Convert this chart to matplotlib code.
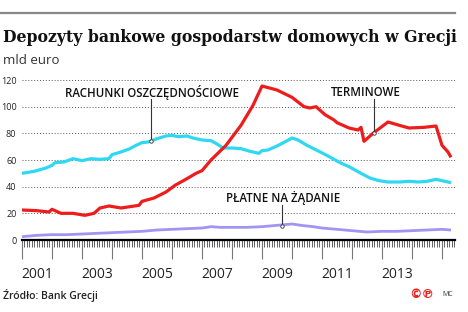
import numpy as np
import matplotlib
matplotlib.use("Agg")
import matplotlib.pyplot as plt

plt.rcParams['font.family'] = ['Open Sans', 'DejaVu Sans']

# data (decimal years, bn euro)
sav_t = [2001.0, 2001.4, 2001.8, 2002.0, 2002.1, 2002.4, 2002.7, 2003.0, 2003.3, 2003.6,
         2003.9, 2004.0, 2004.3, 2004.6, 2004.8, 2005.0, 2005.2, 2005.5, 2005.8, 2006.0,
         2006.2, 2006.5, 2006.7, 2007.0, 2007.3, 2007.5, 2007.7, 2008.0, 2008.3, 2008.6,
         2008.9, 2009.0, 2009.2, 2009.5, 2009.8, 2010.0, 2010.2, 2010.5, 2010.9, 2011.2,
         2011.6, 2011.9, 2012.3, 2012.6, 2012.9, 2013.2, 2013.6, 2013.9, 2014.2, 2014.5,
         2014.8, 2015.0, 2015.3]
sav_v = [50, 51.5, 54, 56, 58, 58.5, 61, 59.5, 61, 60.5,
         61, 64, 66, 68.5, 71, 73, 73.5, 76, 78, 78.5,
         77.5, 78, 76.5, 75, 74.5, 72, 69, 69, 68.5, 66.5,
         65, 67, 67.5, 70.5, 74, 76.5, 75, 71, 66.5, 63,
         58, 55, 50, 46.5, 44.5, 43.5, 43.5, 44, 43.5, 44,
         45.5, 44.5, 43]

term_t = [2001.0, 2001.5, 2001.9, 2002.0, 2002.3, 2002.7, 2003.1, 2003.4, 2003.6, 2003.9,
          2004.3, 2004.6, 2004.9, 2005.0, 2005.4, 2005.8, 2006.1, 2006.5, 2006.8, 2007.0,
          2007.3, 2007.8, 2008.3, 2008.7, 2009.0, 2009.5, 2010.0, 2010.4, 2010.6, 2010.8,
          2011.1, 2011.4, 2011.5, 2011.9, 2012.2, 2012.3, 2012.4, 2012.7, 2013.2, 2013.5,
          2013.9, 2014.4, 2014.8, 2015.0, 2015.2, 2015.3]
term_v = [22.5, 22, 21, 23, 20, 20, 18.5, 20, 24, 25.5,
          24, 25, 26, 29, 31.5, 36, 41, 46, 50, 52,
          60, 71, 86, 101, 115.5, 112.5, 107, 100, 99, 100,
          94, 90, 88, 84, 82.5, 84.5, 74, 80, 88.5, 86.5,
          84, 84.5, 85.5, 71, 66, 62]

dem_t = [2001.0, 2001.5, 2002.0, 2002.5, 2003.0, 2003.5, 2004.0, 2004.5, 2005.0, 2005.5,
         2006.0, 2006.5, 2007.0, 2007.3, 2007.6, 2008.0, 2008.5, 2009.0, 2009.5, 2010.0,
         2010.3, 2010.7, 2011.0, 2011.5, 2012.0, 2012.5, 2013.0, 2013.5, 2014.0, 2014.5,
         2015.0, 2015.3]
dem_v = [2.5, 3.5, 4, 4, 4.5, 5, 5.5, 6, 6.5, 7.5,
         8, 8.5, 9, 10, 9.5, 9.5, 9.5, 10, 11, 12,
         11, 10, 9, 8, 7, 6, 6.5, 6.5, 7, 7.5,
         8, 7.5]

years_lab = [2001, 2003, 2005, 2007, 2009, 2011, 2013]

W, H = 468, 312
fig = plt.figure(figsize=(W / 100, H / 100), dpi=100)
ax = fig.add_axes([22 / W, (H - 240) / H, 433 / W, 160 / H])

ax.plot(sav_t, sav_v, color='#2fd8f2', lw=2.3, solid_capstyle='butt')
ax.plot(term_t, term_v, color='#ee1c1c', lw=2.3, solid_capstyle='butt')
ax.plot(dem_t, dem_v, color='#a294f2', lw=2.0, solid_capstyle='butt')

ax.set_xlim(2001, 2001 + 433 / 30)
ax.set_ylim(0, 120)
for s in ['top', 'right', 'left']:
    ax.spines[s].set_visible(False)
ax.spines['bottom'].set_linewidth(1.6)

ax.set_yticks(range(0, 121, 20))
ax.tick_params(axis='y', length=0, pad=4, labelsize=6.5, labelcolor='#222222')
ax.yaxis.grid(True, linestyle=(0, (1, 2)), color='#555555', lw=0.7)
ax.set_axisbelow(True)

ax.set_xticks(range(2001, 2016))
ax.set_xticklabels([])
ax.set_xticks(np.arange(2001, 2015.42, 1 / 12), minor=True)
ax.tick_params(axis='x', which='major', length=14, width=0.8, color='#777777')
ax.tick_params(axis='x', which='minor', length=5, width=0.5, color='#222222')

for y in years_lab:
    ax.text(y + 0.5, -34 / 160 * 120 / 120, str(y), transform=ax.get_xaxis_transform(),
            ha='center', va='center', fontsize=10, color='#222222')

# annotations
lab_kw = dict(ha='center', va='center', fontsize=8.3, color='#111111', fontweight='semibold')
ax.text(2005.35, 110.5, 'RACHUNKI OSZCZĘDNOŚCIOWE', **lab_kw)
ax.plot([2005.3, 2005.3], [106, 74], color='#333333', lw=0.8)
ax.plot([2005.3], [74], marker='o', ms=2.5, mfc='white', mec='#333333', mew=0.6)
ax.text(2012.47, 110.5, 'TERMINOWE', **lab_kw)
ax.plot([2012.73, 2012.73], [106, 80.5], color='#333333', lw=0.8)
ax.plot([2012.73], [80.5], marker='o', ms=2.5, mfc='white', mec='#333333', mew=0.6)
ax.text(2009.7, 31.5, 'PŁATNE NA ŻĄDANIE', **lab_kw)
ax.plot([2009.67, 2009.67], [26, 10.5], color='#333333', lw=0.8)
ax.plot([2009.67], [10.5], marker='o', ms=2.5, mfc='white', mec='#333333', mew=0.6)

# header / footer
fig.add_artist(plt.Line2D([0, 455 / W], [1 - 13 / H, 1 - 13 / H], color='#888888', lw=1.6))
title = fig.text(3 / W, 1 - 37 / H, 'Depozyty bankowe gospodarstw domowych w Grecji',
                 ha='left', va='center', fontsize=12, fontweight='bold',
                 family='DejaVu Serif', color='#111111')
fig.canvas.draw()
w = title.get_window_extent().width
title.set_fontsize(12 * 452 / w)

fig.text(3 / W, 1 - 61 / H, 'mld euro', ha='left', va='center', fontsize=9.5, color='#333333')
fig.text(3 / W, 1 - 295 / H, 'Źródło: Bank Grecji', ha='left', va='center',
         fontsize=7.5, fontweight='semibold', color='#222222')
fig.text(422 / W, 1 - 295 / H, '©℗', ha='center', va='center', fontsize=9,
         fontweight='bold', color='#e8201e', family='DejaVu Sans')
fig.text(448 / W, 1 - 295 / H, 'MC', ha='center', va='center', fontsize=5,
         color='#333333')

fig.savefig('out.png', dpi=100)
